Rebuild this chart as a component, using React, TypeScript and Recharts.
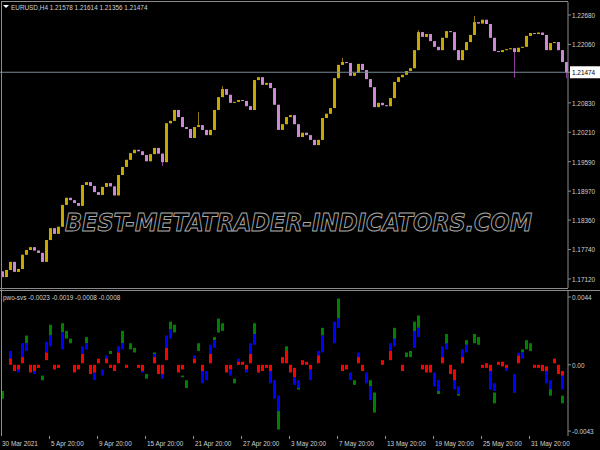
import React from 'react';
import { ComposedChart, Bar, XAxis, YAxis, ReferenceLine } from 'recharts';

// EURUSD H4 closes, one value per 4px column (two H4 bars merged)
const closes = [
  1.1716, 1.1731, 1.1748, 1.1727, 1.1733, 1.1763, 1.1773, 1.1779, 1.1772, 1.1767,
  1.1748, 1.1794, 1.1819, 1.1807, 1.1822, 1.1868, 1.1883, 1.1878, 1.1872, 1.1866,
  1.1910, 1.1916, 1.1908, 1.1895, 1.1889, 1.1906, 1.1914, 1.1907, 1.1888, 1.1931,
  1.1948, 1.1963, 1.1977, 1.1984, 1.1981, 1.1973, 1.1960, 1.1975, 1.1988, 1.1976,
  1.1958, 1.2040, 1.2045, 1.2068, 1.2053, 1.2032, 1.2028, 1.2009, 1.2032, 1.2036,
  1.2026, 1.2015, 1.2026, 1.2068, 1.2095, 1.2112, 1.2100, 1.2083, 1.2085, 1.2089,
  1.2087, 1.2076, 1.2068, 1.2131, 1.2137, 1.2121, 1.2125, 1.2114, 1.2079, 1.2026,
  1.2038, 1.2053, 1.2057, 1.2038, 1.2011, 1.2020, 1.2015, 1.2005, 1.1994, 1.2005,
  1.2051, 1.2060, 1.2072, 1.2135, 1.2163, 1.2169, 1.2167, 1.2140, 1.2146, 1.2165,
  1.2152, 1.2133, 1.2116, 1.2074, 1.2083, 1.2078, 1.2076, 1.2093, 1.2127, 1.2137,
  1.2142, 1.2150, 1.2156, 1.2194, 1.2232, 1.2222, 1.2228, 1.2213, 1.2201, 1.2194,
  1.2220, 1.2234, 1.2232, 1.2194, 1.2173, 1.2194, 1.2211, 1.2226, 1.2253, 1.2250,
  1.2258, 1.2249, 1.2220, 1.2192, 1.2190, 1.2194, 1.2196, 1.2198, 1.2190, 1.2199,
  1.2201, 1.2224, 1.2230, 1.2228, 1.2231, 1.2226, 1.2194, 1.2209, 1.2211, 1.2194,
  1.2169, 1.2147,
];
const firstOpen = 1.1728;

// notable shadows: [column, high, low]
const wicks: [number, number | null, number | null][] = [
  [40, null, 1.195],
  [49, 1.2064, null],
  [55, 1.2118, null],
  [85, 1.2178, null],
  [104, 1.2236, null],
  [118, 1.2266, null],
  [128, null, 1.2136],
  [141, null, 1.2135],
];

const priceTicks = [1.2268, 1.2206, 1.21474, 1.2083, 1.2021, 1.1959, 1.1897, 1.1836, 1.1774, 1.1712];
const lastPrice = 1.21474;

// pwo-svs histogram pieces: [column, from, to]
const redBars: [number, number, number][] = [
  [2, 0, 0.0004], [3, 0, -0.0004], [4, 0, -0.0003], [5, 0.0001, 0.0005], [7, 0, -0.0005],
  [8, 0, -0.0004], [9, 0, -0.0002], [11, 0.0003, 0.0008], [13, 0, -0.0003], [14, 0, -0.0002],
  [18, 0, -0.0005], [19, 0, -0.0003], [20, 0.0001, 0.0007], [22, 0, -0.0006], [23, 0, -0.0005],
  [24, 0.0001, 0.0004], [26, 0.0001, 0.0004], [27, 0, -0.0002], [28, 0, -0.0004], [29, 0.0001, 0.0008],
  [31, 0, -0.0002], [34, 0, -0.0002], [35, 0, -0.0004], [38, 0.0001, 0.0005], [39, 0, -0.0006],
  [40, 0, -0.0006], [41, 0.0003, 0.0011], [44, 0, -0.0005], [45, 0, -0.0003], [48, 0.0001, 0.0004],
  [50, 0, -0.0004], [52, 0.0001, 0.0007], [56, 0, -0.0005], [57, 0, -0.0003], [59, 0, 0.0002],
  [60, 0, 0.0002], [61, 0, -0.0003], [62, 0.0001, 0.0007], [64, 0, -0.0005], [65, 0, -0.0004],
  [66, 0, -0.0002], [67, 0, -0.0004], [70, 0.0001, 0.0005], [71, 0.0001, 0.0009], [72, 0, -0.0005],
  [73, -0.0002, -0.0008], [75, 0, 0.0003], [76, 0, 0.0002], [77, 0, -0.0003], [79, 0.0001, 0.0006],
  [85, 0, -0.0004], [86, 0, -0.0003], [89, 0.0001, 0.0005], [90, 0, -0.0004], [95, 0, 0.0003],
  [97, 0.0003, 0.0009], [100, 0, -0.0004], [105, 0, -0.0003], [106, 0, -0.0005], [107, 0, -0.0005],
  [110, 0.0001, 0.0005], [112, 0, -0.0006], [113, -0.0003, -0.001], [115, 0.0001, 0.0005], [120, 0, -0.0002],
  [121, 0.0001, -0.0002], [122, 0, -0.0004], [124, 0, 0.0002], [125, 0.0002, -0.0001], [126, 0, -0.0002],
  [129, 0.0001, 0.0006], [133, 0, -0.0002], [134, 0, -0.0002], [135, 0, -0.0004], [136, -0.0001, -0.0004],
  [138, 0.0001, 0.0004], [139, 0, -0.0006], [140, -0.0004, -0.0007],
];
const blueBars: [number, number, number][] = [
  [2, 0.0003, 0.0009], [4, -0.0001, -0.0005], [5, 0.0005, 0.0014], [6, 0.0009, 0.0014], [8, -0.0003, -0.0006],
  [11, 0.0008, 0.0015], [12, 0.0012, 0.0019], [15, 0.001, 0.0021], [20, 0.0007, 0.0012], [21, 0.001, 0.0014],
  [23, -0.0005, -0.001], [25, -0.0003, -0.0007], [26, 0.0003, 0.0006], [29, 0.0008, 0.0012], [30, 0.001, 0.0014],
  [35, -0.0002, -0.0005], [38, 0.0004, 0.0007], [40, -0.0004, -0.0009], [41, 0.0011, 0.0019], [42, 0.0017, 0.0023],
  [48, 0.0004, 0.0006], [50, -0.0002, -0.0012], [51, -0.0004, -0.001], [52, 0.0007, 0.0013], [53, 0.0011, 0.0016],
  [57, -0.0003, -0.0007], [59, 0.0002, 0.0004], [61, -0.0002, -0.0005], [62, 0.0007, 0.0014], [63, 0.0013, 0.002],
  [67, -0.0004, -0.0012], [68, -0.001, -0.0022], [69, -0.002, -0.003], [73, -0.0006, -0.0013], [74, -0.001, -0.0015],
  [77, -0.0003, -0.001], [79, 0.0005, 0.0009], [80, 0.0008, 0.0019], [83, 0.0014, 0.0028], [84, 0.0024, 0.003],
  [87, -0.0005, -0.001], [89, 0.0004, 0.0008], [91, -0.0005, -0.0012], [92, -0.0014, -0.0023], [97, 0.0009, 0.0014],
  [98, 0.0012, 0.0017], [103, 0.0011, 0.0022], [104, 0.0018, 0.0024], [108, -0.0005, -0.0014], [109, -0.001, -0.0017],
  [110, 0.0005, 0.0012], [111, 0.001, 0.0014], [113, -0.0009, -0.0016], [114, -0.0014, -0.0019], [115, 0.0005, 0.001],
  [116, 0.0008, 0.0013], [122, -0.0004, -0.0016], [123, -0.0012, -0.0017], [126, -0.0002, -0.0004], [128, -0.0006, -0.0018],
  [129, 0.0005, 0.0008], [130, 0.0004, 0.0008], [136, -0.0004, -0.0012], [137, -0.001, -0.0016], [140, -0.0006, -0.0016],
];
const greenBars: [number, number, number][] = [
  [0, -0.0017, -0.0022], [6, 0.0014, 0.0019], [10, -0.0007, -0.001], [12, 0.0019, 0.0026], [15, 0.0021, 0.0027],
  [16, 0.0017, 0.0022], [17, 0.0014, 0.0017], [21, 0.0014, 0.0018], [27, 0.0007, 0.0009], [30, 0.0014, 0.0022],
  [32, 0.001, 0.0014], [33, 0.0008, 0.0011], [36, -0.0006, -0.0009], [38, 0.0007, 0.0008], [42, 0.0023, 0.0028],
  [43, 0.0021, 0.0026], [45, -0.0007, -0.0008], [46, -0.001, -0.0015], [49, 0.0009, 0.0014], [53, 0.0016, 0.0018],
  [54, 0.0021, 0.003], [55, 0.0022, 0.0027], [58, -0.0009, -0.0012], [63, 0.002, 0.0027], [69, -0.0028, -0.0042],
  [71, 0.0009, 0.0012], [74, -0.0013, -0.0016], [80, 0.0019, 0.0024], [84, 0.003, 0.0043], [88, -0.001, -0.0013],
  [92, -0.001, -0.0014], [93, -0.0018, -0.0031], [98, 0.0016, 0.0024], [101, 0.0005, 0.0008], [102, 0.0005, 0.0009],
  [103, 0.002, 0.0028], [104, 0.0024, 0.0032], [109, -0.0014, -0.0019], [111, 0.0013, 0.002], [114, -0.0015, -0.002],
  [116, 0.0013, 0.0016], [118, 0.0014, 0.002], [119, 0.0013, 0.0018], [123, -0.0018, -0.0025], [128, -0.0015, -0.0018],
  [130, 0.0008, 0.001], [131, 0.001, 0.0016], [132, 0.0009, 0.0014], [137, -0.0015, -0.002], [140, -0.002, -0.0025],
];
const indTicks = [0.0044, 0, -0.0043];

const dateTicks = [0, 12, 24, 36, 48, 60, 72, 84, 96, 108, 120, 132];
const dateLabels = [
  '30 Mar 2021', '5 Apr 20:00', '9 Apr 20:00', '15 Apr 20:00', '21 Apr 20:00', '27 Apr 20:00',
  '3 May 20:00', '7 May 20:00', '13 May 20:00', '19 May 20:00', '25 May 20:00', '31 May 20:00',
];

const FONT = "'Liberation Sans', Arial, sans-serif";
const TXT = '#d0d0d0';
const FRAME = '#8c8c8c';
const BULL = '#c8a800';
const BEAR = '#c98ad2';

// indicator panel geometry (chart-local pixels)
const IND_H = 161;
const IND_AXIS_Y = 147;

const pick = (list: [number, number, number][], i: number) => {
  const e = list.find((v) => v[0] === i);
  return e ? [Math.min(e[1], e[2]), Math.max(e[1], e[2])] : null;
};

const data = closes.map((close, i) => {
  const open = i === 0 ? firstOpen : closes[i - 1];
  const w = wicks.find((v) => v[0] === i);
  const high = Math.max(open, close, w && w[1] != null ? w[1] : -Infinity);
  const low = Math.min(open, close, w && w[2] != null ? w[2] : Infinity);
  return {
    i, open, close, high, low,
    red: pick(redBars, i), blue: pick(blueBars, i), green: pick(greenBars, i),
  };
});

// narrow terminal-style label
const Label = ({ x, y, fill = TXT, dy, children }: any) => (
  <text
    transform={`translate(${x} ${y}) scale(0.8 1)`}
    dy={dy} fontSize={8} fontFamily={FONT} fill={fill} textAnchor="start"
  >
    {children}
  </text>
);

const Candle = (props: any) => {
  const { x, y, width, height, payload } = props;
  if (!payload || !height) return null;
  const top = Math.min(y, y + height);
  const h = Math.abs(height);
  const span = payload.high - payload.low;
  const py = (v: number) => top + ((payload.high - v) / span) * h;
  const up = payload.close >= payload.open;
  const bTop = py(Math.max(payload.open, payload.close));
  const bBot = py(Math.min(payload.open, payload.close));
  const cx = Math.round(x + width / 2) - 0.5;
  return (
    <g>
      <line x1={cx} x2={cx} y1={top} y2={top + h} stroke={up ? '#8c7a10' : '#8a3c96'} strokeWidth={1} />
      <rect x={x} y={bTop} width={width} height={Math.max(1, bBot - bTop)} fill={up ? BULL : BEAR} />
    </g>
  );
};

const PriceTick = (props: any) => {
  const { x, y, payload } = props;
  const v = payload.value;
  const isLast = Math.abs(v - lastPrice) < 1e-7;
  return (
    <g>
      {isLast && <rect x={x - 1} y={y - 6} width={31} height={12} fill="#ffffff" />}
      <Label x={x + 1} y={y} dy="0.35em" fill={isLast ? '#000' : TXT}>{v.toFixed(5)}</Label>
    </g>
  );
};

const IndTick = (props: any) => {
  const { x, y, payload } = props;
  const v = payload.value;
  return <Label x={x + 1} y={y} dy="0.35em">{v === 0 ? '0.00' : v.toFixed(4)}</Label>;
};

const DateTick = (props: any) => {
  const { x, payload } = props;
  const idx = dateTicks.indexOf(payload.value);
  return (
    <g>
      {idx > 0 && <line x1={x - 0.5} x2={x - 0.5} y1={IND_AXIS_Y} y2={IND_AXIS_Y + 3} stroke={FRAME} />}
      <Label x={idx === 0 ? x : x + 1} y={IND_AXIS_Y + 10}>{dateLabels[idx]}</Label>
    </g>
  );
};

const App = () => {
  return (
    <div style={{ position: 'absolute', left: 0, top: 0, width: 600, height: 450, background: '#000', overflow: 'hidden' }}>
      <svg width={600} height={450} style={{ position: 'absolute', left: 0, top: 0 }}>
        <text
          x={65} y={231} fontSize={24} fontStyle="italic" fontWeight="bold" fontFamily="'DejaVu Sans', sans-serif"
          textLength={467} lengthAdjust="spacingAndGlyphs" fill="#000" stroke="#a8a8a8" strokeWidth={1}
        >
          BEST-METATRADER-INDICATORS.COM
        </text>
      </svg>

      <div style={{ position: 'absolute', left: 0, top: 0 }}>
        <ComposedChart width={600} height={290} data={data} margin={{ top: 2, right: 0, bottom: 2, left: 0 }}>
          <XAxis dataKey="i" type="category" hide />
          <YAxis
            orientation="right" width={32} domain={[1.1693, 1.22954]} allowDataOverflow type="number"
            ticks={priceTicks} interval={0} tick={<PriceTick />} tickSize={3} tickMargin={0}
            axisLine={{ stroke: FRAME }} tickLine={{ stroke: FRAME }}
          />
          <ReferenceLine y={lastPrice} stroke="#778899" strokeWidth={1} />
          <Bar dataKey={(d: any) => [d.low, d.high]} barSize={3} shape={<Candle />} isAnimationActive={false} />
        </ComposedChart>
      </div>

      <div style={{ position: 'absolute', left: 0, top: 289 }}>
        <ComposedChart width={600} height={IND_H} data={data} margin={{ top: 2, right: 0, bottom: 2, left: 0 }}>
          <XAxis
            xAxisId="g" dataKey="i" type="category" ticks={dateTicks} interval={0} height={12}
            tick={<DateTick />} tickSize={3} tickMargin={2} tickLine={false} axisLine={{ stroke: FRAME }}
          />
          <XAxis xAxisId="b" dataKey="i" type="category" hide />
          <XAxis xAxisId="r" dataKey="i" type="category" hide />
          <YAxis
            orientation="right" width={32} domain={[-0.00462, 0.00479]} allowDataOverflow type="number"
            ticks={indTicks} interval={0} tick={<IndTick />} tickSize={3} tickMargin={0}
            axisLine={{ stroke: FRAME }} tickLine={{ stroke: FRAME }}
          />
          <Bar xAxisId="g" dataKey="green" fill="#008000" barSize={3} isAnimationActive={false} />
          <Bar xAxisId="b" dataKey="blue" fill="#0000ff" barSize={3} isAnimationActive={false} />
          <Bar xAxisId="r" dataKey="red" fill="#ff0000" barSize={3} isAnimationActive={false} />
        </ComposedChart>
      </div>

      <svg width={600} height={450} style={{ position: 'absolute', left: 0, top: 0, pointerEvents: 'none' }}>
        <line x1={1.5} x2={1.5} y1={1.5} y2={436} stroke={FRAME} />
        <line x1={1} x2={568} y1={1.5} y2={1.5} stroke={FRAME} />
        <line x1={0} x2={568} y1={288.5} y2={288.5} stroke={FRAME} />
        <line x1={0} x2={600} y1={290.5} y2={290.5} stroke={FRAME} />
        <polygon points="3,5 9,5 6,8" fill="#ffffff" />
        <Label x={11} y={10}>EURUSD,H4  1.21578 1.21614 1.21356 1.21474</Label>
        <Label x={3} y={300}>pwo-svs -0.0023 -0.0019 -0.0008 -0.0008</Label>
      </svg>
    </div>
  );
};

export default App;
